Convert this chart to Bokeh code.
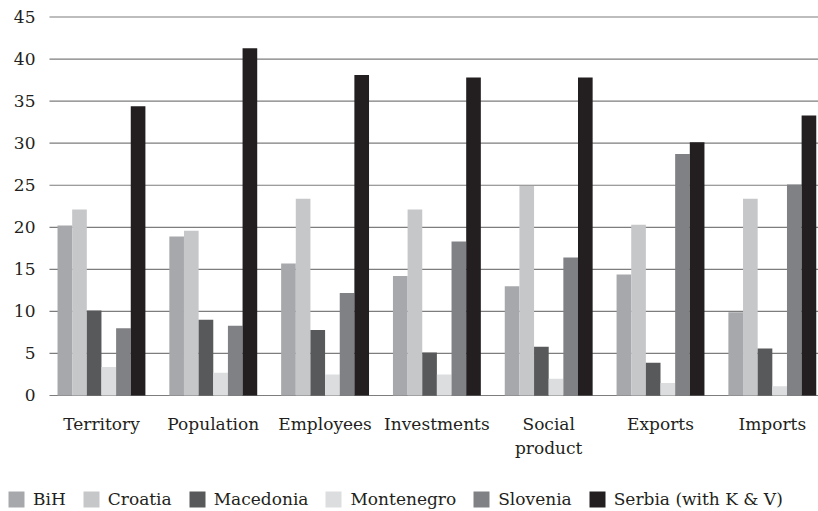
from bokeh.plotting import figure
from bokeh.layouts import column
from bokeh.models import (ColumnDataSource, Range1d, FixedTicker, Legend, LegendItem)
from bokeh.embed import file_html
from bokeh.resources import INLINE

categories = ["Territory", "Population", "Employees", "Investments", "Social product", "Exports", "Imports"]
tick_labels = ["Territory", "Population", "Employees", "Investments", "Social\nproduct", "Exports", "Imports"]
series_names = ["BiH", "Croatia", "Macedonia", "Montenegro", "Slovenia", "Serbia (with K & V)"]
bih = [20.2, 18.9, 15.7, 14.2, 13.0, 14.4, 9.9]
croatia = [22.1, 19.6, 23.4, 22.1, 24.9, 20.3, 23.4]
macedonia = [10.1, 9.0, 7.8, 5.1, 5.8, 3.9, 5.6]
montenegro = [3.4, 2.7, 2.5, 2.5, 2.0, 1.5, 1.1]
slovenia = [8.0, 8.3, 12.2, 18.3, 16.4, 28.7, 25.1]
serbia = [34.4, 41.3, 38.1, 37.8, 37.8, 30.1, 33.3]
y_ticks = [0, 5, 10, 15, 20, 25, 30, 35, 40, 45]
colors = ["#a7a8ab", "#c6c7c9", "#58595b", "#dcdddf", "#808184", "#231f20"]

series = [bih, croatia, macedonia, montenegro, slovenia, serbia]
FONT = "DejaVu Serif"

PLOT_LEFT = -0.465   # where the gridlines begin
PLOT_RIGHT = 6.413
VIEW_LEFT = -0.903   # leaves room for the value labels
Y_BOTTOM = -1.19     # room so the "0" label is not clipped
Y_TOP = 46.25        # room so the "45" label is not clipped

p = figure(width=818, height=470, output_backend="svg", toolbar_location=None,
           x_range=Range1d(VIEW_LEFT, PLOT_RIGHT), y_range=Range1d(Y_BOTTOM, Y_TOP),
           y_axis_location=None,
           min_border_left=0, min_border_right=0, min_border_top=6, min_border_bottom=65)
p.outline_line_color = None
p.background_fill_color = "white"
p.border_fill_color = "white"
p.xgrid.grid_line_color = None
p.ygrid.grid_line_color = None

# horizontal gridlines at the value ticks
p.segment(x0=[PLOT_LEFT] * len(y_ticks), x1=[PLOT_RIGHT] * len(y_ticks), y0=y_ticks, y1=y_ticks,
          line_color="#7d7d7d", line_width=1.2)
# value labels
p.text(x=[PLOT_LEFT] * len(y_ticks), y=y_ticks, text=[str(t) for t in y_ticks],
       x_offset=-14, text_align="right", text_baseline="middle",
       text_font={"value": FONT}, text_font_size="17px", text_color="#231f20")

bw = 0.131
xs = list(range(len(categories)))
for i, (vals, col) in enumerate(zip(series, colors)):
    off = (i - 2.5) * bw
    src = ColumnDataSource(dict(x=[x + off for x in xs], top=vals))
    p.vbar(x="x", top="top", bottom=0, width=bw, source=src, fill_color=col, line_color=None)

p.xaxis.ticker = FixedTicker(ticks=xs)
p.xaxis.major_label_overrides = {i: t for i, t in enumerate(tick_labels)}
ax = p.xaxis[0]
ax.axis_line_color = None
ax.major_tick_line_color = None
ax.minor_tick_line_color = None
ax.major_label_text_font = FONT
ax.major_label_text_font_size = "17px"
ax.major_label_text_color = "#231f20"
ax.major_label_standoff = 2

# legend strip below the chart
lg = figure(width=818, height=41, output_backend="svg", toolbar_location=None,
            x_range=Range1d(0, 1), y_range=Range1d(0, 1),
            x_axis_type=None, y_axis_type=None, min_border=0,
            min_border_left=0, min_border_right=0, min_border_top=0, min_border_bottom=0)
lg.outline_line_color = None
lg.background_fill_color = "white"
lg.border_fill_color = "white"
lg.xgrid.grid_line_color = None
lg.ygrid.grid_line_color = None
items = []
for name, col in zip(series_names, colors):
    r = lg.quad(left=[5], right=[6], top=[5], bottom=[4], fill_color=col, line_color=None)
    items.append(LegendItem(label=name, renderers=[r]))

legend = Legend(items=items, orientation="horizontal", location=(6, 2),
                label_text_font=FONT, label_text_font_size="17px", label_text_color="#231f20",
                glyph_width=20, glyph_height=20, label_standoff=7, spacing=15,
                label_width=10, label_height=20,
                border_line_color=None, background_fill_alpha=0, padding=0, margin=0)
lg.add_layout(legend, "center")

layout = column(p, lg, spacing=0)
open("out.html", "w").write(file_html(layout, INLINE))
